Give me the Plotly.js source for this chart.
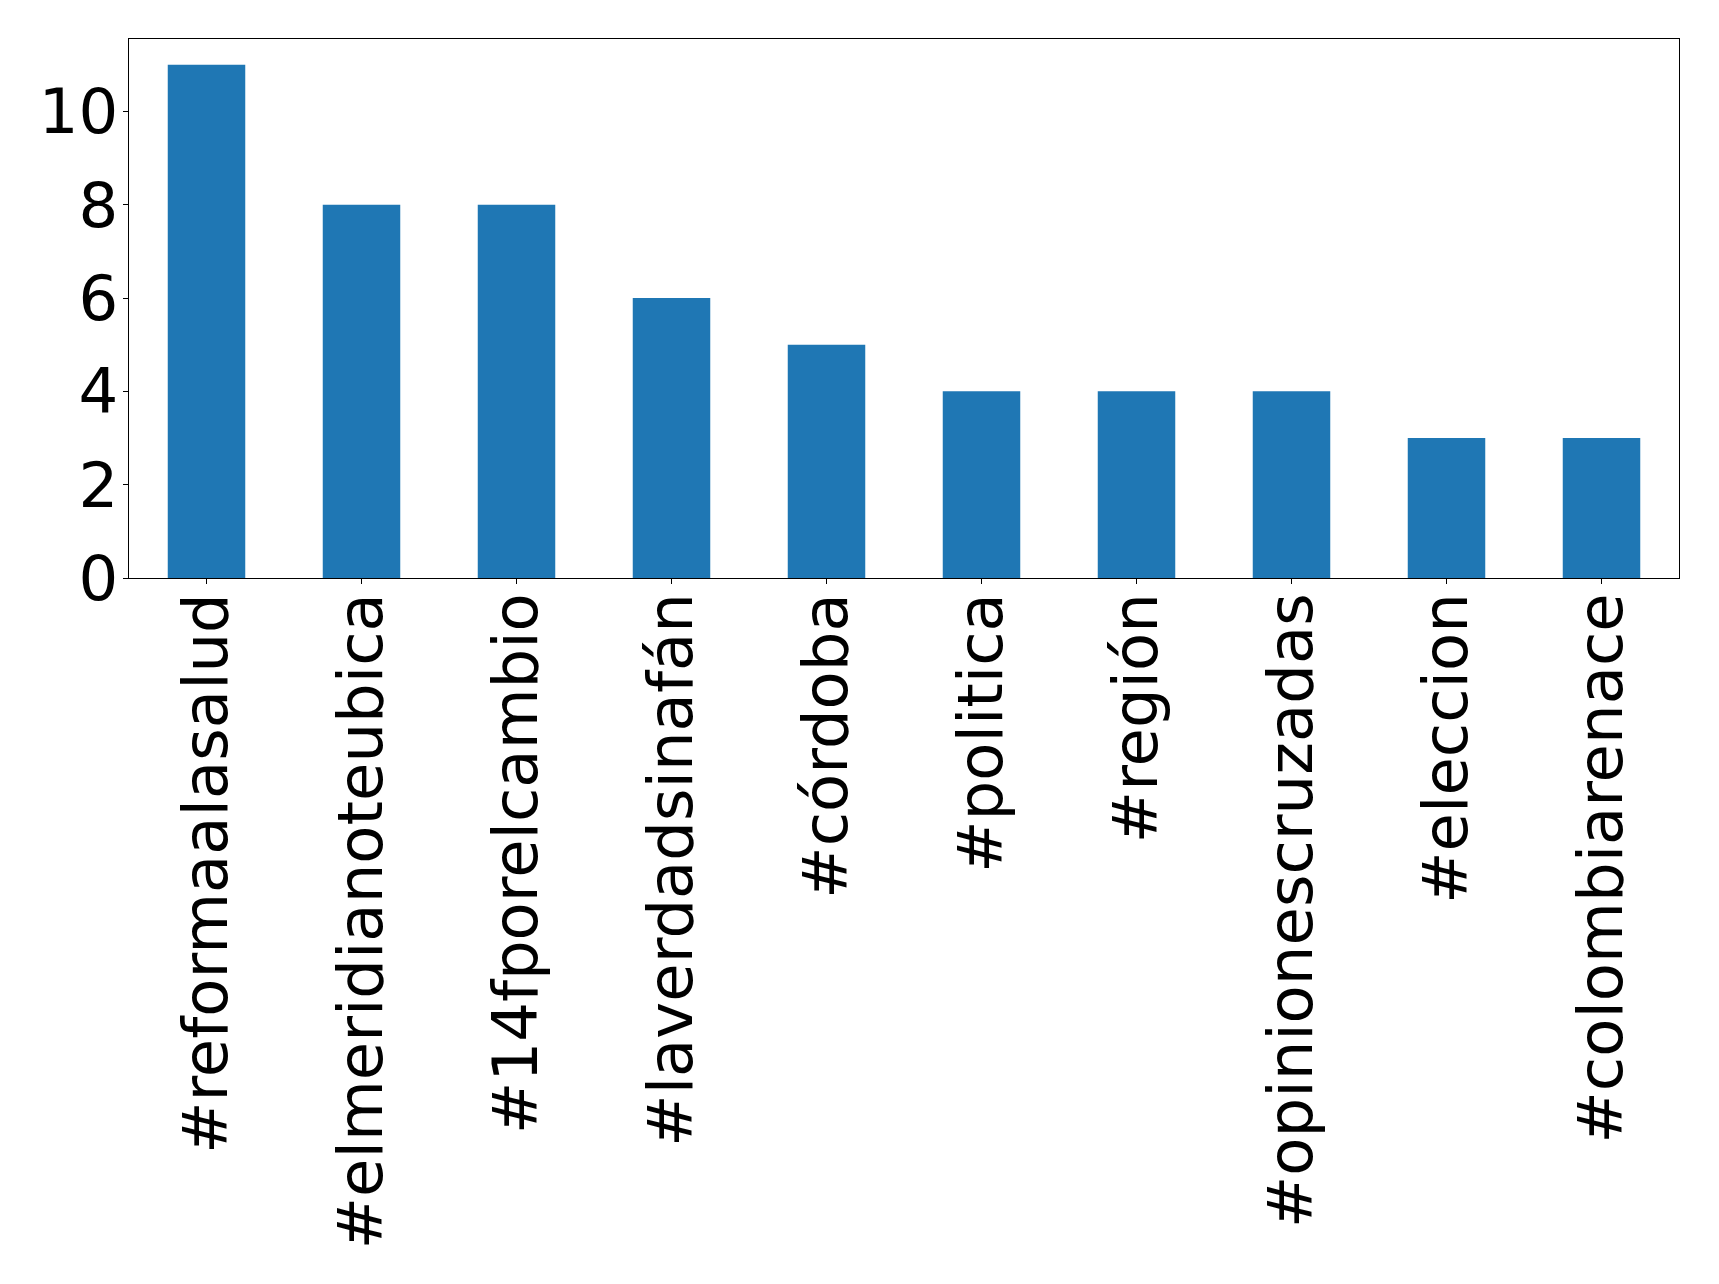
<!DOCTYPE html>
<html>
<head>
<meta charset="utf-8">
<script src="https://cdn.plot.ly/plotly-3.0.1.min.js"></script>
<style>html,body{margin:0;padding:0;background:#fff;}</style>
</head>
<body>
<div id="chart" style="width:1719px;height:1284px;"></div>
<script>
const hashtags = ["#reformaalasalud", "#elmeridianoteubica", "#14fporelcambio", "#laverdadsinafán", "#córdoba", "#politica", "#región", "#opinionescruzadas", "#eleccion", "#colombiarenace"];
const counts = [11, 8, 8, 6, 5, 4, 4, 4, 3, 3];
const yTicks = [0, 2, 4, 6, 8, 10];

const trace = {
  type: "bar",
  x: hashtags,
  y: counts,
  marker: {color: "#1f77b4", line: {width: 0}},
  hoverinfo: "x+y"
};

const font = {family: "DejaVu Sans, sans-serif", size: 62.5, color: "#000"};

const layout = {
  width: 1719,
  height: 1284,
  margin: {l: 129, r: 40, t: 39, b: 706, pad: 0},
  paper_bgcolor: "#fff",
  plot_bgcolor: "#fff",
  bargap: 0.5,
  showlegend: false,
  font: font,
  xaxis: {
    type: "category",
    range: [-0.5, hashtags.length - 0.5],
    tickangle: -90,
    tickfont: font,
    ticks: "outside",
    ticklen: 5,
    tickwidth: 1,
    tickcolor: "#000",
    ticklabelstandoff: -16,
    showline: true,
    linecolor: "#000",
    linewidth: 1.2,
    mirror: true,
    showgrid: false,
    zeroline: false,
    automargin: false
  },
  yaxis: {
    range: [0, 11.55],
    tickvals: yTicks,
    ticktext: yTicks.map(String),
    tickfont: font,
    ticks: "outside",
    ticklen: 5,
    tickwidth: 1,
    tickcolor: "#000",
    ticklabelstandoff: -8,
    showline: true,
    linecolor: "#000",
    linewidth: 1.2,
    mirror: true,
    showgrid: false,
    zeroline: false,
    automargin: false
  }
};

Plotly.newPlot("chart", [trace], layout, {displayModeBar: false, staticPlot: true});
</script>
</body>
</html>
